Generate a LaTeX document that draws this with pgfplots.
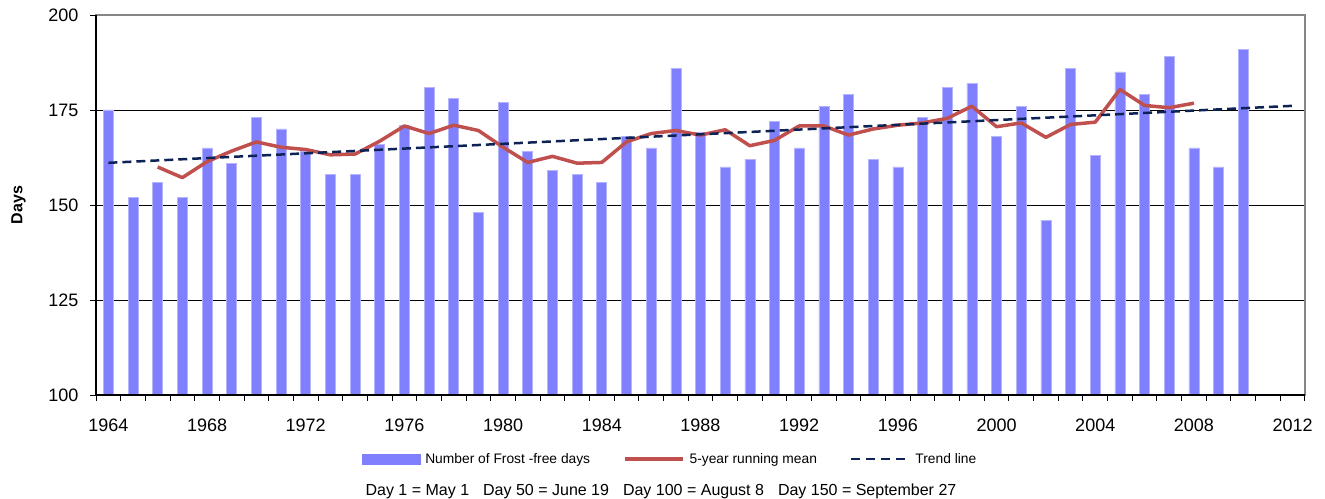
\documentclass[border=0pt]{standalone}
\usepackage{pgfplots}
\pgfplotsset{compat=1.18}
\usepackage{pgfplotstable}
\usepackage{fontspec}
\setmainfont{Liberation Sans}
\definecolor{barblue}{HTML}{8080FF}
\definecolor{baredge}{HTML}{B4B4FF}
\definecolor{meanred}{HTML}{C0504D}
\definecolor{trendnavy}{HTML}{0D2356}
\definecolor{framegray}{HTML}{868686}

\pgfplotstableread{
year days
1964 175
1965 152
1966 156
1967 152
1968 165
1969 161
1970 173
1971 170
1972 164
1973 158
1974 158
1975 166
1976 171
1977 181
1978 178
1979 148
1980 177
1981 164
1982 159
1983 158
1984 156
1985 168
1986 165
1987 186
1988 169
1989 160
1990 162
1991 172
1992 165
1993 176
1994 179
1995 162
1996 160
1997 173
1998 181
1999 182
2000 168
2001 176
2002 146
2003 186
2004 163
2005 185
2006 179
2007 189
2008 165
2009 160
2010 191
}\frost

\pgfplotstableread{
year mean
1966 160.0
1967 157.2
1968 161.4
1969 164.2
1970 166.6
1971 165.2
1972 164.6
1973 163.2
1974 163.4
1975 166.8
1976 170.8
1977 168.8
1978 171.0
1979 169.6
1980 165.2
1981 161.2
1982 162.8
1983 161.0
1984 161.2
1985 166.6
1986 168.8
1987 169.6
1988 168.4
1989 169.8
1990 165.6
1991 167.0
1992 170.8
1993 170.8
1994 168.4
1995 170.0
1996 171.0
1997 171.6
1998 172.8
1999 176.0
2000 170.6
2001 171.6
2002 167.8
2003 171.2
2004 171.8
2005 180.4
2006 176.2
2007 175.6
2008 176.8
}\runmean

\begin{document}
\begin{tikzpicture}
\useasboundingbox (0,0) rectangle (1325bp,499bp);
\begin{axis}[
  at={(96bp,104bp)}, anchor=south west,
  scale only axis, width=1209bp, height=380bp,
  xmin=1963.5, xmax=2012.5, ymin=100, ymax=200,
  xtick={1964,1968,...,2012},
  minor xtick={1963.5,1964.5,...,2012.5},
  ytick={100,125,...,200},
  tick align=outside,
  major tick length=6bp, minor tick length=6bp,
  xtick style={/pgfplots/major tick length=0pt, black, line width=0.8bp},
  ytick style={black, line width=0.8bp},
  tick pos=left,
  /pgf/number format/assume math mode=true,
  /pgf/number format/1000 sep={},
  ticklabel style={font=\fontsize{18bp}{21bp}\selectfont},
  xticklabel style={yshift=-14bp},
  yticklabel style={xshift=-8bp},
  ymajorgrids,
  major grid style={black, line width=0.9bp},
  axis line style={framegray, line width=1.8bp},
  ylabel={\textbf{Days}},
  ylabel style={at={(rel axis cs:-0.064,0.5)}, anchor=center, font=\fontsize{16bp}{18bp}\selectfont},
  legend style={at={(0.4748,-0.168)}, anchor=center, draw=none, fill=none,
    font=\fontsize{13.8bp}{16bp}\selectfont,
    legend columns=3,
    /tikz/every odd column/.append style={column sep=3bp},
    /tikz/every even column/.append style={column sep=31bp}},
]
\addplot[ybar, bar width=10bp, fill=barblue, draw=baredge, line width=0.6bp,
  legend image code/.code={\fill[barblue] (0bp,-5bp) rectangle (58bp,5bp);}]
  table[x=year, y=days] {\frost};
\addlegendentry{Number of Frost -free days}
\addplot[meanred, line width=3.5bp, line join=round, no markers,
  legend image code/.code={\draw[meanred, line width=3.5bp] (0bp,0bp) -- (58bp,0bp);}]
  table[x=year, y=mean] {\runmean};
\addlegendentry{5-year running mean}
\addplot[trendnavy, line width=2.5bp, dash pattern=on 9bp off 5bp, no markers,
  legend image code/.code={\draw[trendnavy, line width=2.5bp, dash pattern=on 9bp off 6bp] (0bp,0bp) -- (58bp,0bp);}]
  coordinates {(1964,161.1) (2012,176.1)};
\addlegendentry{Trend line}
\end{axis}
\draw[black, line width=1.4bp] (current axis.north west) -- (current axis.south west) -- (current axis.south east);
\node[font=\fontsize{16bp}{18bp}\selectfont, anchor=center] at (661bp,8bp)
  {Day 1 = May 1\hspace{14bp}Day 50 = June 19\hspace{14bp}Day 100 = August 8\hspace{14bp}Day 150 = September 27};
\end{tikzpicture}
\end{document}
